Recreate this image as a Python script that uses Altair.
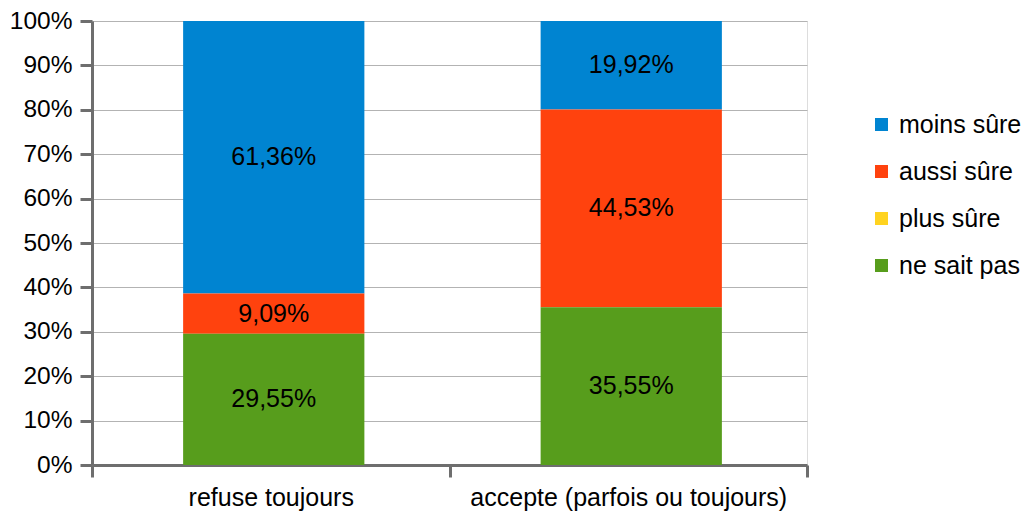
import altair as alt
import pandas as pd

categories = ["refuse toujours", "accepte (parfois ou toujours)"]
series = ["moins sûre", "aussi sûre", "plus sûre", "ne sait pas"]
colors = ["#0084d1", "#ff420e", "#ffd320", "#579d1c"]
stack_rank = {"ne sait pas": 0, "plus sûre": 1, "aussi sûre": 2, "moins sûre": 3}
values = {
    "moins sûre": [61.36, 19.92],
    "aussi sûre": [9.09, 44.53],
    "plus sûre": [0.0, 0.0],
    "ne sait pas": [29.55, 35.55],
}

rows = []
for s in series:
    for c, v in zip(categories, values[s]):
        rows.append({"cat": c, "serie": s, "val": v, "rank": stack_rank[s]})
df = pd.DataFrame(rows)

FONT = "Liberation Sans"
FS = 25

x = alt.X("cat:N", sort=categories, title=None,
          scale=alt.Scale(paddingInner=0, paddingOuter=0),
          axis=alt.Axis(labelAngle=0, labelFontSize=FS, labelFont=FONT, labelColor="black",
                        labelLimit=500,
                        tickBand="extent", tickSize=12, tickWidth=3, tickColor="#6e6e6e",
                        domainColor="#6e6e6e", domainWidth=3, labelPadding=8, grid=False))

bars = alt.Chart(df).mark_bar(width=alt.RelativeBandSize(0.507), xOffset=3).encode(
    x=x,
    y=alt.Y("val:Q", stack="zero", title=None,
            scale=alt.Scale(domain=[0, 100], nice=False),
            axis=alt.Axis(values=list(range(0, 101, 10)), labelExpr="datum.value + '%'",
                          labelFontSize=24.5, labelFont=FONT, labelColor="black",
                          tickSize=12, tickWidth=3, tickColor="#6e6e6e",
                          domainColor="#6e6e6e", domainWidth=3, labelPadding=8,
                          gridColor="#b3b3b3", gridWidth=1)),
    color=alt.Color("serie:N", scale=alt.Scale(domain=series, range=colors),
                    legend=alt.Legend(title=None, orient="none", legendX=777, legendY=91,
                                      symbolType="square", symbolSize=169, symbolStrokeWidth=0,
                                      labelFontSize=FS, labelFont=FONT, labelColor="black",
                                      labelLimit=300,
                                      labelOffset=5, rowPadding=21, padding=0)),
    order=alt.Order("rank:Q", sort="ascending"),
)

labels = alt.Chart(df).transform_filter("datum.val > 0").transform_stack(
    stack="val", groupby=["cat"], as_=["y0", "y1"], sort=[alt.SortField("rank", order="ascending")]
).transform_calculate(
    mid="(datum.y0 + datum.y1) / 2",
    lab="replace(format(datum.val, '.2f'), '.', ',') + '%'",
).mark_text(font=FONT, fontSize=FS, color="black", baseline="middle", dx=3).encode(
    x=alt.X("cat:N", sort=categories),
    y=alt.Y("mid:Q"),
    text="lab:N",
)

chart = alt.layer(bars, labels).properties(
    width=715, height=444,
    autosize=alt.AutoSizeParams(type="none"),
    padding={"left": 84, "top": 13, "right": 219, "bottom": 47},
).configure_view(stroke="#b3b3b3", strokeWidth=1).configure(background="white")

chart.save("out.html", embed_options={"renderer": "svg", "actions": False})
